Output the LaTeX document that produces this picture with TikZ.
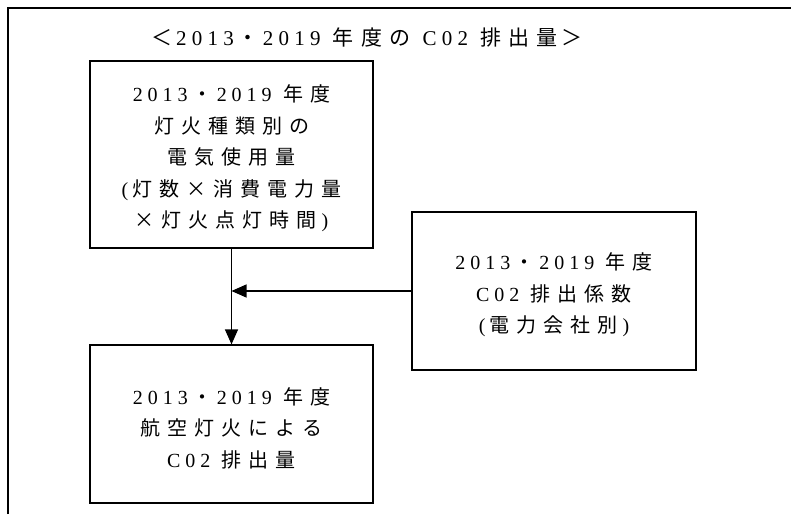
\documentclass[tikz,border=0pt]{standalone}
\usepackage{fontspec}
\usetikzlibrary{arrows.meta}
\newfontfamily\jpfont[LetterSpace=35,Kerning=Off]{Noto Sans CJK JP}
\newfontfamily\numfont[LetterSpace=25]{Liberation Serif}
\newcommand\nm[1]{{\numfont #1}}
\newcommand\wide[1]{\makebox[29pt]{#1}}
\newcommand\yrs{\nm{2013}\wide{・}\nm{2019} }
\newcommand\drop{\rule{0pt}{25pt}}
\newcommand\lp{\nm{(}\hspace{4pt}}
\newcommand\rp{\hspace{5pt}\nm{)}}

\begin{document}
\begin{tikzpicture}[x=1pt,y=-1pt,
  txt/.style={align=center,inner sep=0pt,font=\jpfont\fontsize{20}{31.5}\selectfont},
  box/.style={txt,draw,line width=1.2pt},
  flow/.style={line width=1.2pt,-{Triangle[length=15pt,width=13pt]}}]
  \useasboundingbox (0,0) rectangle (791,514);
  \draw[line width=1.5pt] (8,514) -- (8,8) -- (791,8);
  \node[txt,font=\jpfont\fontsize{21}{32}\selectfont] (title) at (367,37)
    {\wide{＜}\yrs 年度の \nm{C02} 排出量\wide{＞}};
  \node[box,minimum width=283pt,minimum height=187pt] (use) at (231.5,154.5)
    {\drop\yrs 年度\\灯火種類別の\\電気使用量\\\lp 灯数×消費電力量\\×灯火点灯時間\rp};
  \node[box,minimum width=284pt,minimum height=158pt] (coef) at (554,291)
    {\drop\yrs 年度\\\nm{C02} 排出係数\\\lp 電力会社別\rp};
  \node[box,minimum width=283pt,minimum height=158pt] (emit) at (231.5,424)
    {\drop\yrs 年度\\航空灯火による\\\nm{C02} 排出量};
  \coordinate (join) at (use.south |- coef.west);
  \draw[flow] (use) -- (emit);
  \draw[flow] (coef) -- (join);
\end{tikzpicture}
\end{document}
